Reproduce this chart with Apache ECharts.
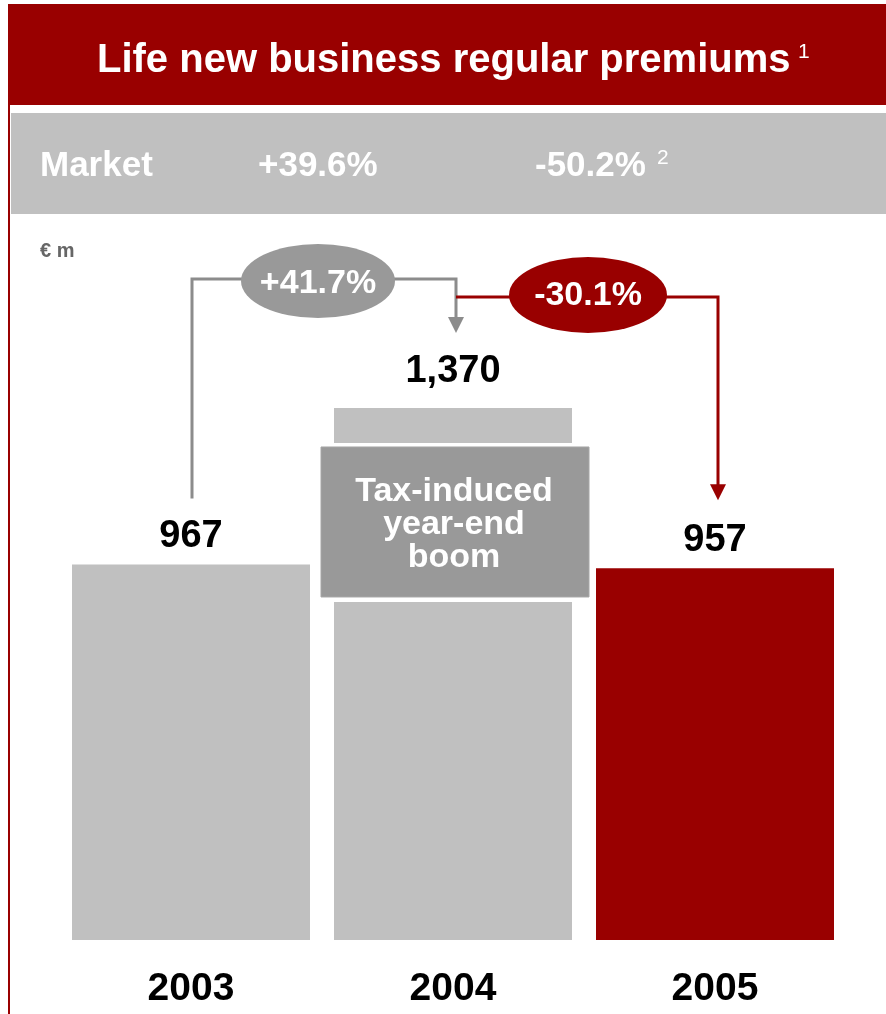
<!DOCTYPE html>
<html>
<head>
<meta charset="utf-8">
<script src="https://cdn.jsdelivr.net/npm/echarts@6/dist/echarts.min.js"></script>
<style>
  html, body { margin: 0; padding: 0; background: #fff; }
  #chart { width: 886px; height: 1014px; }
</style>
</head>
<body>
<div id="chart"></div>
<script>
// Life new business regular premiums, € m
const years = ['2003', '2004', '2005'];
const premiums = [967, 1370, 957];
const valueLabels = ['967', '1,370', '957'];
const growthLabels = ['+41.7%', '-30.1%'];
const marketLabel = 'Market';
const marketGrowth = ['+39.6%', '-50.2%'];
const titleText = 'Life new business regular premiums';
const unitText = '€ m';
const boomText = ['Tax-induced', 'year-end', 'boom'];

const RED = '#990000';
const BAR_GRAY = '#c0c0c0';
const BOX_GRAY = '#999999';
const LINE_GRAY = '#8c8c8c';
const FONT = '"Liberation Sans", Arial, Helvetica, sans-serif';

const chart = echarts.init(document.getElementById('chart'), null, { renderer: 'canvas' });

chart.setOption({
  animation: false,
  backgroundColor: '#ffffff',
  grid: { left: 60, right: 40, top: 357.5, bottom: 74 },
  xAxis: {
    type: 'category',
    data: years,
    axisLine: { show: false },
    axisTick: { show: false },
    axisLabel: {
      fontFamily: FONT, fontSize: 39, fontWeight: 'bold', color: '#000', margin: 30
    }
  },
  yAxis: { type: 'value', min: 0, max: 1500, show: false, splitLine: { show: false } },
  series: [{
    type: 'bar',
    barWidth: 238,
    z: 2,
    data: premiums.map((v, i) => ({
      value: v,
      itemStyle: { color: i === 2 ? RED : BAR_GRAY },
      label: { distance: i === 1 ? 17 : 9 }
    })),
    label: {
      show: true,
      position: 'top',
      formatter: p => valueLabels[p.dataIndex],
      fontFamily: FONT, fontSize: 38, fontWeight: 'bold', color: '#000'
    }
  }]
});

// Pixel anchors from the bar scale
const px = (i) => chart.convertToPixel({ gridIndex: 0 }, [i, premiums[i]]);
const [x0, y0] = px(0);
const [x1, y1] = px(1);
const [x2, y2] = px(2);

function txt(text, x, y, size, color, opts) {
  opts = opts || {};
  return {
    type: 'text', z: 20, x: x, y: y,
    style: {
      text: text, fill: color,
      fontFamily: FONT, fontSize: size, fontWeight: opts.weight || 'bold',
      align: opts.align || 'left', textAlign: opts.align || 'left',
      verticalAlign: 'middle', textVerticalAlign: 'middle',
      lineHeight: opts.lineHeight
    }
  };
}

function ellipse(cx, cy, rx, ry, color) {
  return {
    type: 'circle', z: 15, x: cx, y: cy, scaleX: rx / ry, scaleY: 1,
    shape: { cx: 0, cy: 0, r: ry },
    style: { fill: color }
  };
}

function arrowHead(x, yTip, color) {
  return {
    type: 'polygon', z: 12,
    shape: { points: [[x - 8, yTip - 16], [x + 8, yTip - 16], [x, yTip]] },
    style: { fill: color }
  };
}

const gxA = x0 + 1;   // start of the 2003→2004 connector
const gxB = x1 + 3;   // drop onto 2004
const rxB = x2 + 3;   // drop onto 2005
const grayLevel = 279;
const redLevel = 297;

const graphics = [
  // header band and frame
  { type: 'rect', z: 5, shape: { x: 8, y: 4, width: 878, height: 101 }, style: { fill: RED } },
  { type: 'rect', z: 5, shape: { x: 8, y: 4, width: 2, height: 1010 }, style: { fill: RED } },
  { type: 'rect', z: 5, shape: { x: 11, y: 113, width: 875, height: 101 }, style: { fill: BAR_GRAY } },
  txt(titleText, 97, 61, 40, '#fff'),
  txt('1', 798, 52, 21, '#fff', { weight: 'normal' }),
  txt(marketLabel, 40, 166, 35, '#fff'),
  txt(marketGrowth[0], 258, 166, 35, '#fff'),
  txt(marketGrowth[1], 535, 166, 35, '#fff'),
  txt('2', 657, 158, 21, '#fff', { weight: 'normal' }),
  txt(unitText, 40, 251, 20, '#666666'),

  // 2003 → 2004 connector
  {
    type: 'polyline', z: 10,
    shape: { points: [[gxA, y0 - 66], [gxA, grayLevel], [gxB, grayLevel], [gxB, y1 - 90]] },
    style: { stroke: LINE_GRAY, lineWidth: 3, fill: null, lineJoin: 'miter' }
  },
  arrowHead(gxB, y1 - 75, LINE_GRAY),
  ellipse((gxA + gxB) / 2 - 6, grayLevel + 2, 77, 37, BOX_GRAY),
  txt(growthLabels[0], (gxA + gxB) / 2 - 6, grayLevel + 5, 34, '#fff', { align: 'center' }),

  // 2004 → 2005 connector
  {
    type: 'polyline', z: 10,
    shape: { points: [[gxB, redLevel], [rxB, redLevel], [rxB, y2 - 83]] },
    style: { stroke: RED, lineWidth: 3, fill: null, lineJoin: 'miter' }
  },
  arrowHead(rxB, y2 - 68, RED),
  ellipse((gxB + rxB) / 2 + 1, redLevel - 2, 79, 38, RED),
  txt(growthLabels[1], (gxB + rxB) / 2 + 1, redLevel - 1, 34, '#fff', { align: 'center' }),

  // year-end boom callout over the 2004 bar
  { type: 'rect', z: 10, shape: { x: x1 + 2 - 138, y: y1 + 35, width: 276, height: 159 }, style: { fill: '#ffffff' } },
  { type: 'rect', z: 11, shape: { x: x1 + 2 - 134, y: y1 + 39, width: 268, height: 150 }, style: { fill: BOX_GRAY, stroke: '#a6a6a6', lineWidth: 1 } },
  txt(boomText.join('\n'), x1 + 1, y1 + 117, 34, '#fff', { align: 'center', lineHeight: 33 })
];

chart.setOption({ graphic: { elements: graphics } });
</script>
</body>
</html>
